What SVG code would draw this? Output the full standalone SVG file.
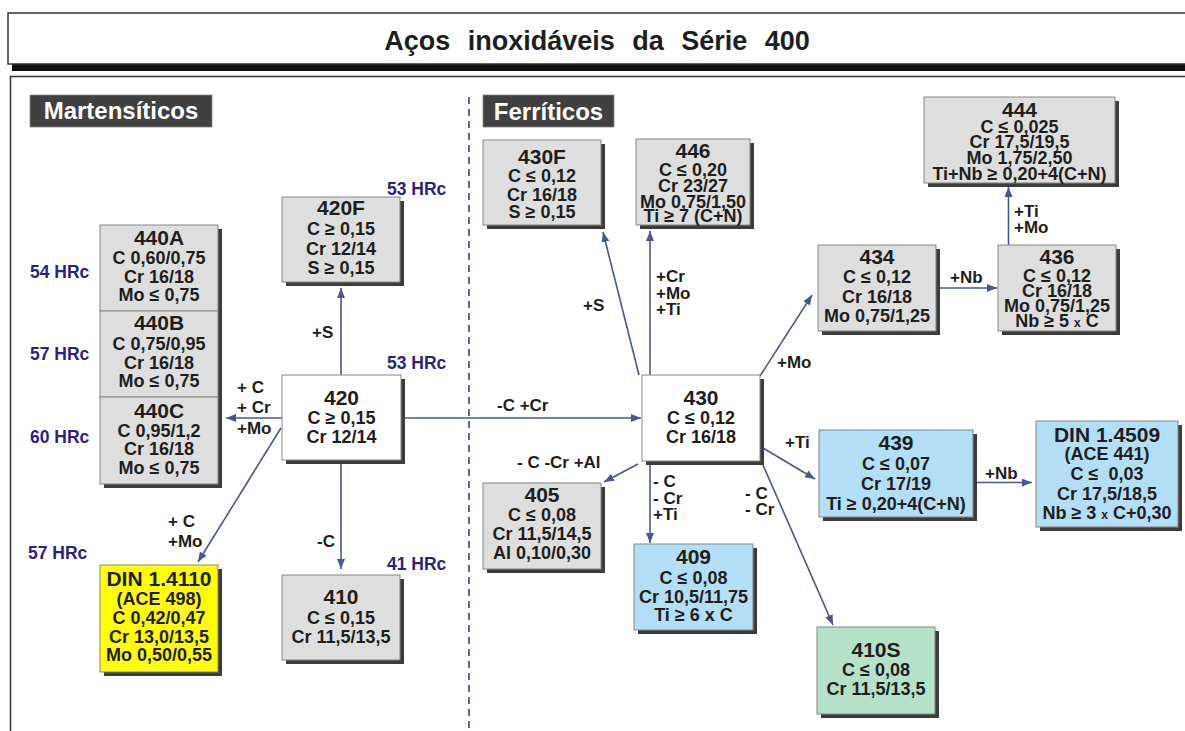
<svg xmlns="http://www.w3.org/2000/svg" width="1185" height="731" viewBox="0 0 1185 731">
<defs>
<style>
text{font-family:"Liberation Sans",Arial,sans-serif;font-weight:bold;fill:#1e1e1e}
.t{font-size:21px;text-anchor:middle}
.b{font-size:18px;text-anchor:middle}
.l{font-size:17px}
.h{font-size:17.5px;fill:#2b2382}
.sx{font-size:12px}
.hd{font-size:24px;fill:#ffffff}
.box{stroke:#858585;stroke-width:1}
.sh{fill:#3c3c3c}
.g{fill:#dedede}
.w{fill:#ffffff}
.bl{fill:#b3def5}
.gr{fill:#b5e0c9}
.y{fill:#ffff00}
.c{stroke:#4a5888;stroke-width:1.6;fill:none;marker-end:url(#ah)}
</style>
<marker id="ah" markerWidth="11" markerHeight="9" refX="10" refY="4" orient="auto" markerUnits="userSpaceOnUse">
<path d="M0,0 L10,4 L0,8 Z" fill="#4a5888"/>
</marker>
</defs>
<rect width="1185" height="731" fill="#ffffff"/>

<g id="frame">
<rect x="12" y="18" width="1190" height="53" fill="#111"/>
<rect x="8" y="13" width="1190" height="51" fill="#fff" stroke="#333" stroke-width="1.5"/>
<text x="597" y="50" font-size="27" text-anchor="middle" word-spacing="10" fill="#1a1a1a">Aços inoxidáveis da Série 400</text>
<rect x="10.5" y="76.5" width="1190" height="700" fill="none" stroke="#333" stroke-width="1.5"/>
<line x1="469" y1="97" x2="469" y2="731" stroke="#3c3a9a" stroke-width="1.6" stroke-dasharray="7 5"/>
</g>

<g id="hdr-mart">
<rect x="30" y="95" width="182" height="32" fill="#404040" stroke="#888" stroke-width="0.8"/>
<text class="hd" x="121" y="119" text-anchor="middle">Martensíticos</text>
</g>
<g id="hdr-ferr">
<rect x="483" y="95" width="131" height="32" fill="#404040" stroke="#888" stroke-width="0.8"/>
<text class="hd" x="548.5" y="120" text-anchor="middle">Ferríticos</text>
</g>

<g id="connectors">
<line class="c" x1="341" y1="375" x2="341" y2="288"/>
<line class="c" x1="282" y1="418" x2="226" y2="418"/>
<path class="c" d="M281,428 L198,562"/>
<line class="c" x1="341" y1="460" x2="341" y2="569"/>
<line class="c" x1="401" y1="418" x2="641" y2="418"/>
<path class="c" d="M639,375 L603,232"/>
<line class="c" x1="650" y1="375" x2="650" y2="231"/>
<path class="c" d="M760,376 L812,295"/>
<line class="c" x1="936" y1="288" x2="997" y2="288"/>
<line class="c" x1="1008.5" y1="245" x2="1008.5" y2="187"/>
<path class="c" d="M638,464 L604,482"/>
<line class="c" x1="650" y1="461" x2="650" y2="543"/>
<path class="c" d="M763,448 L815,479"/>
<line class="c" x1="973" y1="482.5" x2="1032" y2="482.5"/>
<path class="c" d="M763,465 L833,625"/>
</g>

<g id="labels">
<text class="l" x="312" y="338">+S</text>
<text class="l" x="237" y="393">+ C</text>
<text class="l" x="237" y="413">+ Cr</text>
<text class="l" x="237" y="434">+Mo</text>
<text class="l" x="168" y="527">+ C</text>
<text class="l" x="168" y="547">+Mo</text>
<text class="l" x="317" y="547">-C</text>
<text class="l" x="497" y="411">-C +Cr</text>
<text class="l" x="583" y="311">+S</text>
<text class="l" x="656" y="282">+Cr</text>
<text class="l" x="656" y="298.5">+Mo</text>
<text class="l" x="656" y="315">+Ti</text>
<text class="l" x="777" y="368">+Mo</text>
<text class="l" x="950" y="283">+Nb</text>
<text class="l" x="1014" y="217">+Ti</text>
<text class="l" x="1014" y="233">+Mo</text>
<text class="l" x="517" y="468">- C -Cr +Al</text>
<text class="l" x="653" y="487">- C</text>
<text class="l" x="653" y="503.5">- Cr</text>
<text class="l" x="653" y="520">+Ti</text>
<text class="l" x="745" y="498.5">- C</text>
<text class="l" x="745" y="515">- Cr</text>
<text class="l" x="785" y="447.5">+Ti</text>
<text class="l" x="985" y="479">+Nb</text>
<text class="h" x="387" y="195">53 HRc</text>
<text class="h" x="387" y="369">53 HRc</text>
<text class="h" x="387" y="570">41 HRc</text>
<text class="h" x="30" y="278">54 HRc</text>
<text class="h" x="30" y="360">57 HRc</text>
<text class="h" x="30" y="443">60 HRc</text>
<text class="h" x="28" y="559">57 HRc</text>
</g>

<g id="n440A">
<rect class="sh" x="104" y="229" width="118" height="86"/>
<rect class="box g" x="100" y="225" width="118" height="86"/>
<text class="t" x="159" y="245">440A</text>
<text class="b" x="159" y="263.5">C 0,60/0,75</text>
<text class="b" x="159" y="282.5">Cr 16/18</text>
<text class="b" x="159" y="301">Mo ≤ 0,75</text>
</g>
<g id="n440B">
<rect class="sh" x="104" y="315" width="118" height="86"/>
<rect class="box g" x="100" y="311" width="118" height="86"/>
<text class="t" x="159" y="330">440B</text>
<text class="b" x="159" y="350">C 0,75/0,95</text>
<text class="b" x="159" y="368.5">Cr 16/18</text>
<text class="b" x="159" y="387">Mo ≤ 0,75</text>
</g>
<g id="n440C">
<rect class="sh" x="104" y="401" width="118" height="87"/>
<rect class="box g" x="100" y="397" width="118" height="87"/>
<text class="t" x="159" y="418">440C</text>
<text class="b" x="159" y="437">C 0,95/1,2</text>
<text class="b" x="159" y="455">Cr 16/18</text>
<text class="b" x="159" y="473.5">Mo ≤ 0,75</text>
</g>
<g id="nDIN14110">
<rect class="sh" x="104" y="569" width="118" height="107"/>
<rect class="box y" x="100" y="565" width="118" height="107"/>
<text class="t" x="159" y="586">DIN 1.4110</text>
<text class="b" x="159" y="605">(ACE 498)</text>
<text class="b" x="159" y="623.5">C 0,42/0,47</text>
<text class="b" x="159" y="642.5">Cr 13,0/13,5</text>
<text class="b" x="159" y="661">Mo 0,50/0,55</text>
</g>
<g id="n420F">
<rect class="sh" x="286" y="201" width="118" height="85"/>
<rect class="box g" x="282" y="197" width="118" height="85"/>
<text class="t" x="341" y="215">420F</text>
<text class="b" x="341" y="235">C ≥ 0,15</text>
<text class="b" x="341" y="255">Cr 12/14</text>
<text class="b" x="341" y="274">S ≥ 0,15</text>
</g>
<g id="n420">
<rect class="sh" x="286" y="379" width="119" height="85"/>
<rect class="box w" x="282" y="375" width="119" height="85"/>
<text class="t" x="341.5" y="405">420</text>
<text class="b" x="341.5" y="423.5">C ≥ 0,15</text>
<text class="b" x="341.5" y="443">Cr 12/14</text>
</g>
<g id="n410">
<rect class="sh" x="286" y="579" width="118" height="85"/>
<rect class="box g" x="282" y="575" width="118" height="85"/>
<text class="t" x="341" y="603.5">410</text>
<text class="b" x="341" y="623.5">C ≤ 0,15</text>
<text class="b" x="341" y="642.5">Cr 11,5/13,5</text>
</g>
<g id="n430F">
<rect class="sh" x="487" y="144" width="118" height="85"/>
<rect class="box g" x="483" y="140" width="118" height="85"/>
<text class="t" x="542" y="164" font-size="22">430F</text>
<text class="b" x="542" y="182">C ≤ 0,12</text>
<text class="b" x="542" y="200.5">Cr 16/18</text>
<text class="b" x="542" y="218">S ≥ 0,15</text>
</g>
<g id="n446">
<rect class="sh" x="640" y="143" width="114" height="86"/>
<rect class="box g" x="636" y="139" width="114" height="86"/>
<text class="t" x="693" y="158" font-size="22">446</text>
<text class="b" x="693" y="176">C ≤ 0,20</text>
<text class="b" x="693" y="192">Cr 23/27</text>
<text class="b" x="693" y="207.5">Mo 0,75/1,50</text>
<text class="b" x="693" y="222">Ti ≥ 7 (C+N)</text>
</g>
<g id="n444">
<rect class="sh" x="928" y="101" width="191" height="86"/>
<rect class="box g" x="924" y="97" width="191" height="86"/>
<text class="t" x="1019.5" y="116.5">444</text>
<text class="b" x="1019.5" y="132.5">C ≤ 0,025</text>
<text class="b" x="1019.5" y="148">Cr 17,5/19,5</text>
<text class="b" x="1019.5" y="163.5">Mo 1,75/2,50</text>
<text class="b" x="1019.5" y="179.5">Ti+Nb ≥ 0,20+4(C+N)</text>
</g>
<g id="n434">
<rect class="sh" x="822" y="249" width="118" height="86"/>
<rect class="box g" x="818" y="245" width="118" height="86"/>
<text class="t" x="877" y="263.5">434</text>
<text class="b" x="877" y="283">C ≤ 0,12</text>
<text class="b" x="877" y="302.5">Cr 16/18</text>
<text class="b" x="877" y="321.5">Mo 0,75/1,25</text>
</g>
<g id="n436">
<rect class="sh" x="1002" y="249" width="118" height="86"/>
<rect class="box g" x="998" y="245" width="118" height="86"/>
<text class="t" x="1057" y="263.5">436</text>
<text class="b" x="1057" y="281.5">C ≤ 0,12</text>
<text class="b" x="1057" y="296.5">Cr 16/18</text>
<text class="b" x="1057" y="311.5">Mo 0,75/1,25</text>
<text class="b" x="1057" y="327">Nb ≥ 5 <tspan class="sx">x</tspan> C</text>
</g>
<g id="n430">
<rect class="sh" x="646" y="379" width="118" height="86"/>
<rect class="box w" x="642" y="375" width="118" height="86"/>
<text class="t" x="701" y="404.5">430</text>
<text class="b" x="701" y="423.5">C ≤ 0,12</text>
<text class="b" x="701" y="443">Cr 16/18</text>
</g>
<g id="n405">
<rect class="sh" x="487" y="487" width="118" height="86"/>
<rect class="box g" x="483" y="483" width="118" height="86"/>
<text class="t" x="542" y="502">405</text>
<text class="b" x="542" y="521">C ≤ 0,08</text>
<text class="b" x="542" y="540">Cr 11,5/14,5</text>
<text class="b" x="542" y="559">Al 0,10/0,30</text>
</g>
<g id="n409">
<rect class="sh" x="638" y="548" width="119" height="86"/>
<rect class="box bl" x="634" y="544" width="119" height="86"/>
<text class="t" x="693.5" y="564">409</text>
<text class="b" x="693.5" y="583.5">C ≤ 0,08</text>
<text class="b" x="693.5" y="602.5">Cr 10,5/11,75</text>
<text class="b" x="693.5" y="621">Ti ≥ 6 x C</text>
</g>
<g id="n439">
<rect class="sh" x="823" y="434" width="154" height="87"/>
<rect class="box bl" x="819" y="430" width="154" height="87"/>
<text class="t" x="896" y="450">439</text>
<text class="b" x="896" y="470">C ≤ 0,07</text>
<text class="b" x="896" y="490">Cr 17/19</text>
<text class="b" x="896" y="510">Ti ≥ 0,20+4(C+N)</text>
</g>
<g id="nDIN14509">
<rect class="sh" x="1040" y="425" width="142" height="106"/>
<rect class="box bl" x="1036" y="421" width="142" height="106"/>
<text class="t" x="1107" y="441.5">DIN 1.4509</text>
<text class="b" x="1107" y="460">(ACE 441)</text>
<text class="b" x="1107" y="480" xml:space="preserve">C ≤  0,03</text>
<text class="b" x="1107" y="500">Cr 17,5/18,5</text>
<text class="b" x="1107" y="518.5">Nb ≥ 3 <tspan class="sx">x</tspan> C+0,30</text>
</g>
<g id="n410S">
<rect class="sh" x="821" y="631" width="118" height="87"/>
<rect class="box gr" x="817" y="627" width="118" height="87"/>
<text class="t" x="876" y="656.5">410S</text>
<text class="b" x="876" y="675.5">C ≤ 0,08</text>
<text class="b" x="876" y="695">Cr 11,5/13,5</text>
</g>
</svg>
